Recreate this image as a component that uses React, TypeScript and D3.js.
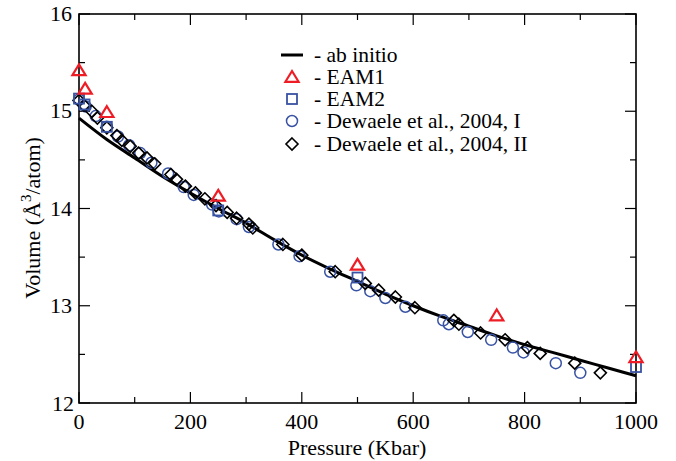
import React from "react";
import * as d3 from "d3";

const abInitioP = [0, 50, 100, 150, 200, 250, 300, 350, 400, 450, 500, 550, 600, 650, 700, 750, 800, 850, 900, 950, 1000];
const abInitioV = [14.93, 14.71, 14.52, 14.33, 14.16, 14.0, 13.85, 13.68, 13.52, 13.38, 13.25, 13.12, 13.0, 12.89, 12.79, 12.69, 12.6, 12.52, 12.44, 12.36, 12.28];

const eam1P = [0, 11, 50, 250, 500, 750, 1000];
const eam1V = [15.42, 15.23, 14.99, 14.13, 13.42, 12.9, 12.47];

const eam2P = [0, 10, 50, 250, 500, 1000];
const eam2V = [15.13, 15.07, 14.84, 13.98, 13.29, 12.37];

const dew1P = [0, 12, 30, 50, 70, 90, 110, 130, 160, 188, 206, 239, 251, 283, 305, 358, 396, 451, 498, 523, 550, 586, 654, 664, 698, 740, 779, 798, 856, 900];
const dew1V = [15.12, 15.05, 14.95, 14.84, 14.74, 14.65, 14.57, 14.47, 14.36, 14.22, 14.14, 14.04, 13.97, 13.89, 13.81, 13.63, 13.51, 13.35, 13.21, 13.15, 13.08, 12.99, 12.85, 12.81, 12.73, 12.65, 12.57, 12.52, 12.41, 12.31];

const dew2P = [0, 9, 23, 33, 50, 68, 77, 92, 107, 122, 136, 165, 175, 191, 209, 226, 246, 266, 283, 305, 312, 366, 400, 460, 514, 538, 568, 603, 673, 682, 721, 765, 805, 828, 890, 936];
const dew2V = [15.11, 15.06, 15.0, 14.93, 14.83, 14.75, 14.7, 14.64, 14.57, 14.52, 14.46, 14.35, 14.3, 14.23, 14.16, 14.1, 14.03, 13.96, 13.9, 13.84, 13.8, 13.63, 13.52, 13.35, 13.23, 13.16, 13.09, 12.98, 12.85, 12.81, 12.72, 12.65, 12.57, 12.51, 12.41, 12.31];

const xTicks = [0, 200, 400, 600, 800, 1000];
const xMinor = [100, 300, 500, 700, 900];
const yTicks = [12, 13, 14, 15, 16];
const yMinor = [12.5, 13.5, 14.5, 15.5];

const legendLabels = ["- ab initio", "- EAM1", "- EAM2", "- Dewaele et al., 2004, I", "- Dewaele et al., 2004, II"];

const RED = "#ee1c25";
const BLUE = "#3953a4";
const FONT = '"Liberation Serif", "DejaVu Serif", serif';
const TS: React.CSSProperties = { fontFamily: FONT, fontSize: "22px" };
const LS: React.CSSProperties = { fontFamily: FONT, fontSize: "21.5px" };

const L = 79, R = 636, T = 14, B = 403;

export default function App() {
  const x = d3.scaleLinear().domain([0, 1000]).range([L, R]);
  const y = d3.scaleLinear().domain([12, 16]).range([B, T]);
  const line = d3.line<number>().x((_, i) => x(abInitioP[i])).y((v) => y(v)).curve(d3.curveMonotoneX);

  const tri = (cx: number, cy: number, k: string) => {
    const s = 6;
    return <path key={k} d={`M${cx},${cy - s}L${cx + s * 1.1},${cy + s * 0.8}L${cx - s * 1.1},${cy + s * 0.8}Z`} fill="none" stroke={RED} strokeWidth={2.2} />;
  };
  const sq = (cx: number, cy: number, k: string) => (
    <rect key={k} x={cx - 5} y={cy - 5} width={10} height={10} fill="none" stroke={BLUE} strokeWidth={1.8} />
  );
  const circ = (cx: number, cy: number, k: string) => (
    <circle key={k} cx={cx} cy={cy} r={5.5} fill="none" stroke={BLUE} strokeWidth={1.5} />
  );
  const dia = (cx: number, cy: number, k: string) => (
    <path key={k} d={`M${cx},${cy - 6}L${cx + 6},${cy}L${cx},${cy + 6}L${cx - 6},${cy}Z`} fill="none" stroke="#000" strokeWidth={1.6} />
  );

  const legY = [55, 77, 99, 121, 144];
  const legMX = 292;

  return (
    <svg width={676} height={461} style={{ position: "absolute", left: 0, top: 0, background: "#fff", fontFamily: FONT }}>
      <rect x={0} y={0} width={676} height={461} fill="#fff" />
      {xTicks.map((t) => (
        <g key={"xt" + t}>
          <line x1={x(t)} x2={x(t)} y1={B} y2={B - 11} stroke="#000" strokeWidth={1.2} />
          <line x1={x(t)} x2={x(t)} y1={T} y2={T + 11} stroke="#000" strokeWidth={1.2} />
          <text x={x(t)} y={429} textAnchor="middle" style={TS}>{t}</text>
        </g>
      ))}
      {xMinor.map((t) => (
        <g key={"xm" + t}>
          <line x1={x(t)} x2={x(t)} y1={B} y2={B - 6} stroke="#000" strokeWidth={1.2} />
          <line x1={x(t)} x2={x(t)} y1={T} y2={T + 6} stroke="#000" strokeWidth={1.2} />
        </g>
      ))}
      {yTicks.map((t) => (
        <g key={"yt" + t}>
          <line x1={L} x2={L + 11} y1={y(t)} y2={y(t)} stroke="#000" strokeWidth={1.2} />
          <line x1={R} x2={R - 11} y1={y(t)} y2={y(t)} stroke="#000" strokeWidth={1.2} />
          <text x={t === 12 ? 74 : 72} y={t === 12 ? y(t) + 8 : y(t) + 7} textAnchor="end" style={TS}>{t}</text>
        </g>
      ))}
      {yMinor.map((t) => (
        <g key={"ym" + t}>
          <line x1={L} x2={L + 6} y1={y(t)} y2={y(t)} stroke="#000" strokeWidth={1.2} />
          <line x1={R} x2={R - 6} y1={y(t)} y2={y(t)} stroke="#000" strokeWidth={1.2} />
        </g>
      ))}
      <rect x={L} y={T} width={R - L} height={B - T} fill="none" stroke="#000" strokeWidth={1.6} />

      <path d={line(abInitioV) || ""} fill="none" stroke="#000" strokeWidth={3} />
      {dew1V.map((v, i) => circ(x(dew1P[i]), y(v), "c" + i))}
      {dew2V.map((v, i) => dia(x(dew2P[i]), y(v), "d" + i))}
      {eam2V.map((v, i) => sq(x(eam2P[i]), y(v), "s" + i))}
      {eam1V.map((v, i) => tri(x(eam1P[i]), y(v), "t" + i))}

      <line x1={281} x2={303} y1={legY[0]} y2={legY[0]} stroke="#000" strokeWidth={3} />
      {tri(legMX, legY[1], "lt")}
      {sq(legMX, legY[2], "ls")}
      {circ(legMX, legY[3], "lc")}
      {dia(legMX, legY[4], "ld")}
      {legendLabels.map((s, i) => (
        <text key={"lg" + i} x={314} y={legY[i] + 7} style={LS}>{s}</text>
      ))}

      <text x={357} y={455} textAnchor="middle" style={TS}>Pressure (Kbar)</text>
      <text transform="translate(40,218) rotate(-90)" textAnchor="middle" style={TS}>
        Volume (Å<tspan dy={-9} style={{ fontSize: "15px" }}>3</tspan><tspan dy={9}>/atom)</tspan>
      </text>
    </svg>
  );
}
